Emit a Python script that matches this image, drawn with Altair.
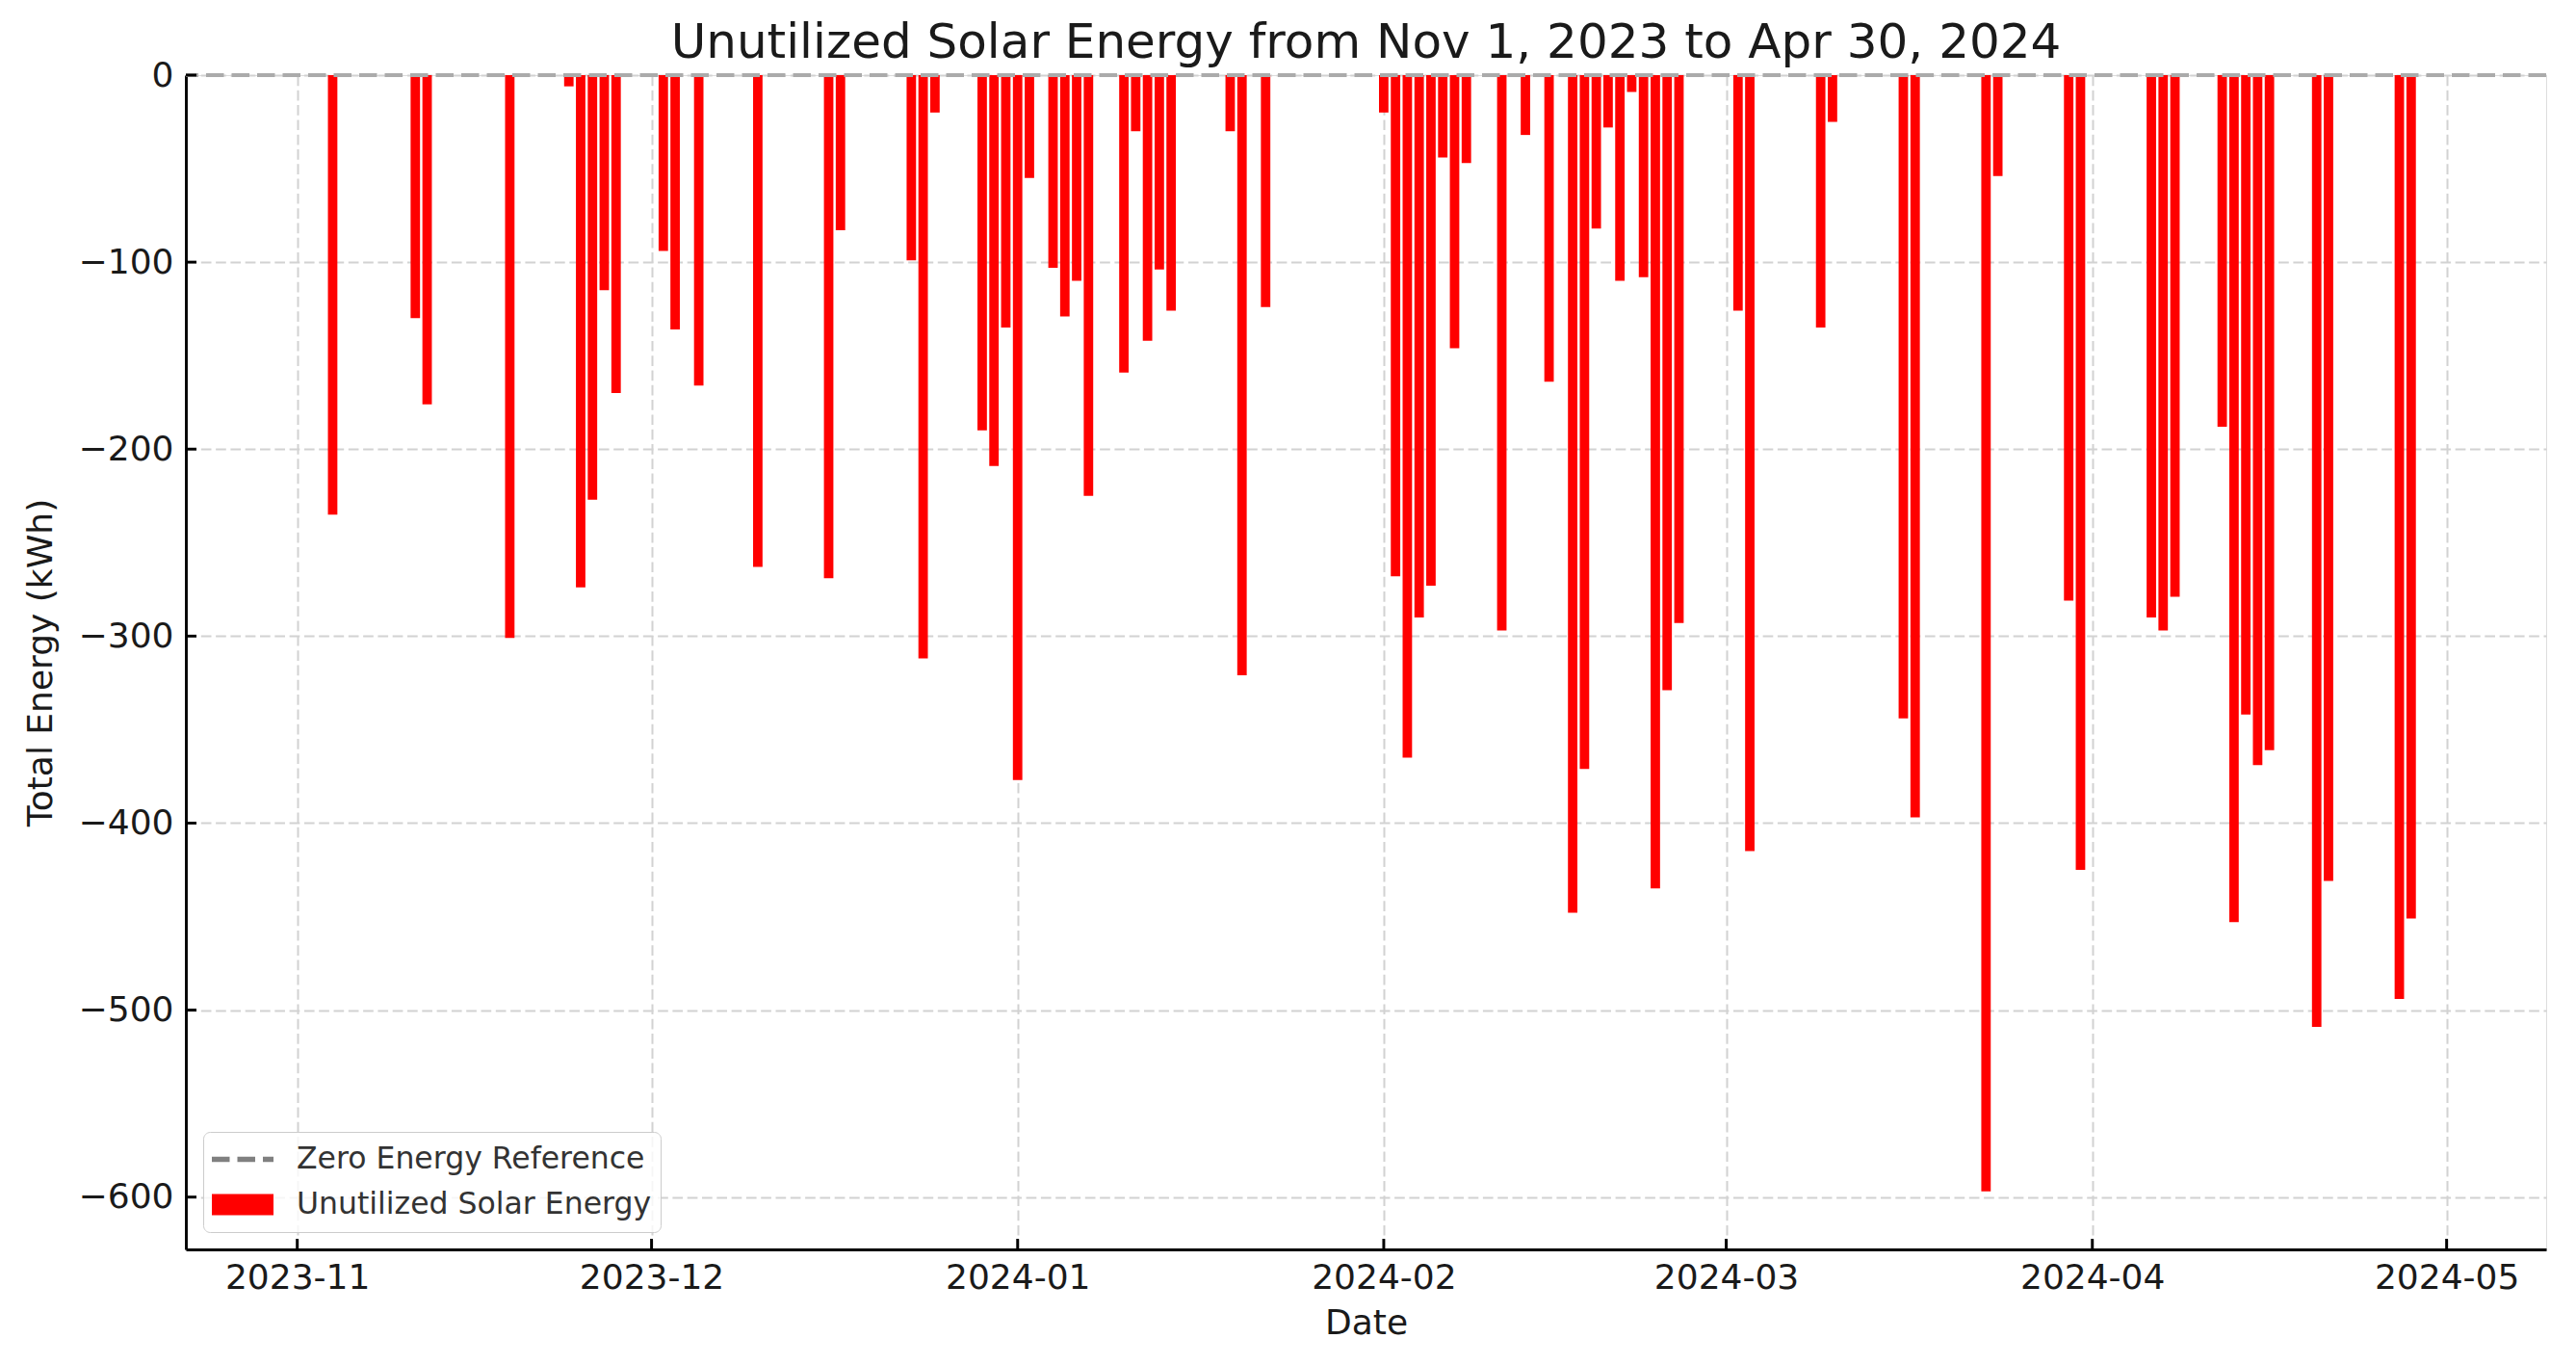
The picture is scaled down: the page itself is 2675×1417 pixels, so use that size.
import altair as alt
import pandas as pd

# ---------------- data ----------------
dates = [
    "2023-11-04", "2023-11-11", "2023-11-12", "2023-11-19", "2023-11-24",
    "2023-11-25", "2023-11-26", "2023-11-27", "2023-11-28", "2023-12-02",
    "2023-12-03", "2023-12-05", "2023-12-10", "2023-12-16", "2023-12-17",
    "2023-12-23", "2023-12-24", "2023-12-25", "2023-12-29", "2023-12-30",
    "2023-12-31", "2024-01-01", "2024-01-02", "2024-01-04", "2024-01-05",
    "2024-01-06", "2024-01-07", "2024-01-10", "2024-01-11", "2024-01-12",
    "2024-01-13", "2024-01-14", "2024-01-19", "2024-01-20", "2024-01-22",
    "2024-02-01", "2024-02-02", "2024-02-03", "2024-02-04", "2024-02-05",
    "2024-02-06", "2024-02-07", "2024-02-08", "2024-02-11", "2024-02-13",
    "2024-02-15", "2024-02-17", "2024-02-18", "2024-02-19", "2024-02-20",
    "2024-02-21", "2024-02-22", "2024-02-23", "2024-02-24", "2024-02-25",
    "2024-02-26", "2024-03-02", "2024-03-03", "2024-03-09", "2024-03-10",
    "2024-03-16", "2024-03-17", "2024-03-23", "2024-03-24", "2024-03-30",
    "2024-03-31", "2024-04-06", "2024-04-07", "2024-04-08", "2024-04-12",
    "2024-04-13", "2024-04-14", "2024-04-15", "2024-04-16", "2024-04-20",
    "2024-04-21", "2024-04-27", "2024-04-28",
]
energy = [
    -235, -130, -176, -301, -6,
    -274, -227, -115, -170, -94,
    -136, -166, -263, -269, -83,
    -99, -312, -20, -190, -209,
    -135, -377, -55, -103, -129,
    -110, -225, -159, -30, -142,
    -104, -126, -30, -321, -124,
    -20, -268, -365, -290, -273,
    -44, -146, -47, -297, -32,
    -164, -448, -371, -82, -28,
    -110, -9, -108, -435, -329,
    -293, -126, -415, -135, -25,
    -344, -397, -597, -54, -281,
    -425, -290, -297, -279, -188,
    -453, -342, -369, -361, -509,
    -431, -494, -451,
]
month_ticks = ["2023-11-01", "2023-12-01", "2024-01-01", "2024-02-01",
               "2024-03-01", "2024-04-01", "2024-05-01"]
y_ticks = [0, -100, -200, -300, -400, -500, -600]
series = ["Zero Energy Reference", "Unutilized Solar Energy"]
series_colors = ["#808080", "#ff0000"]
period = ["2023-11-01", "2024-04-30"]

# ---------------- helpers ----------------
DAY = 86400000


def ms(s):
    return int(pd.Timestamp(s, tz="UTC").value // 10**6)


FONT = "DejaVu Sans"
W, H = 2451, 1219
x_domain = [ms(period[0]) - 9.43 * DAY, ms(period[1]) + 9.43 * DAY]
xscale = alt.Scale(type="utc", domain=x_domain, nice=False)
yscale = alt.Scale(domain=[-628, 0], nice=False, zero=False)

bars_df = pd.DataFrame({"date": dates, "energy": energy})
zero_df = pd.DataFrame({"v": [0]})
xt_df = pd.DataFrame({"t": month_ticks})
yt_df = pd.DataFrame({"v": y_ticks})
leg_df = pd.DataFrame({"series": series, "date": ["2023-01-01"] * 2, "v": [0, 0]})

grid_dash = [10.7, 4.6]

x_axis = alt.Axis(
    values=[ms(t) for t in month_ticks],
    labelExpr="utcFormat(datum.value, '%Y-%m')",
    title="Date", labelFontSize=36, titleFontSize=36, labelFont=FONT, titleFont=FONT,
    labelColor="#1a1a1a", titleColor="#1a1a1a", titleFontWeight="normal",
    ticks=False, tickSize=0, labelPadding=12, titlePadding=12, labelLimit=0,
    domainColor="#000000", domainWidth=2.9, grid=True, gridColor="#d2d2d2",
    gridDash=grid_dash, gridWidth=2, labelFlush=False, labelOverlap=False,
)
y_axis = alt.Axis(
    values=y_ticks, title="Total Energy (kWh)", labelFontSize=36, titleFontSize=36,
    labelFont=FONT, titleFont=FONT, labelColor="#1a1a1a", titleColor="#1a1a1a",
    titleFontWeight="normal", ticks=False, tickSize=0, labelPadding=13,
    titlePadding=20, domainColor="#000000", domainWidth=2.9, grid=True,
    gridColor="#d2d2d2", gridDash=grid_dash, gridWidth=2, labelFlush=False,
    labelOverlap=False, labelLimit=0,
)

bars = alt.Chart(bars_df).transform_calculate(
    start=f"toDate(datum.date) - {0.4 * DAY}",
    end=f"toDate(datum.date) + {0.4 * DAY}",
).mark_bar(color="#ff0000").encode(
    x=alt.X("start:T", scale=xscale, axis=x_axis),
    x2="end:T",
    y=alt.Y("energy:Q", scale=yscale, axis=y_axis),
    y2=alt.datum(0),
)

zero_line = alt.Chart(zero_df).mark_rule(
    color="#ababab", strokeWidth=4, strokeDash=[18.5, 8]
).encode(y=alt.Y("v:Q", scale=yscale, axis=y_axis))

x_ticks = alt.Chart(xt_df).mark_rule(color="#000000", strokeWidth=2.9).encode(
    x=alt.X("t:T", scale=xscale, axis=x_axis),
    y=alt.value(H), y2=alt.value(H - 11),
)
y_tick_marks = alt.Chart(yt_df).mark_rule(color="#000000", strokeWidth=2.9).encode(
    y=alt.Y("v:Q", scale=yscale, axis=y_axis),
    x=alt.value(0), x2=alt.value(11),
)

dash_path = ("M-1,-0.085H-0.422V0.085H-1Z "
             "M-0.172,-0.085H0.406V0.085H-0.172Z "
             "M0.656,-0.085H1V0.085H0.656Z")
rect_path = "M-1,-0.344H1V0.344H-1Z"

leg = alt.Legend(
    title=None, orient="bottom-left", offset=18,
    labelFont=FONT, labelFontSize=31.5, labelColor="#333333", labelLimit=0,
    symbolSize=4096, symbolStrokeWidth=0, clipHeight=39, rowPadding=8,
    labelOffset=24, padding=9, fillColor="rgba(255,255,255,0.8)",
    strokeColor="#cccccc", cornerRadius=7,
)
legend_pts = alt.Chart(leg_df).mark_point(
    filled=True, opacity=1, clip=True, size=1
).encode(
    x=alt.X("date:T", scale=xscale, axis=x_axis),
    y=alt.Y("v:Q", scale=yscale, axis=y_axis),
    color=alt.Color("series:N", scale=alt.Scale(domain=series, range=series_colors), legend=leg),
    shape=alt.Shape("series:N", scale=alt.Scale(domain=series, range=[dash_path, rect_path]), legend=leg),
)

chart = alt.layer(bars, zero_line, x_ticks, y_tick_marks, legend_pts).properties(
    width=W, height=H,
    padding={"left": 185, "top": 70, "right": 23, "bottom": 112},
    autosize=alt.AutoSizeParams(type="none"),
    title=alt.TitleParams(
        "Unutilized Solar Energy from Nov 1, 2023 to Apr 30, 2024",
        fontSize=50, font=FONT, fontWeight="normal", color="#1a1a1a",
        anchor="middle", frame="group", baseline="bottom", offset=0, dy=60,
    ),
).configure_view(stroke=None).configure(background="white")

chart.save("out.html", embed_options={"renderer": "svg", "actions": False})
